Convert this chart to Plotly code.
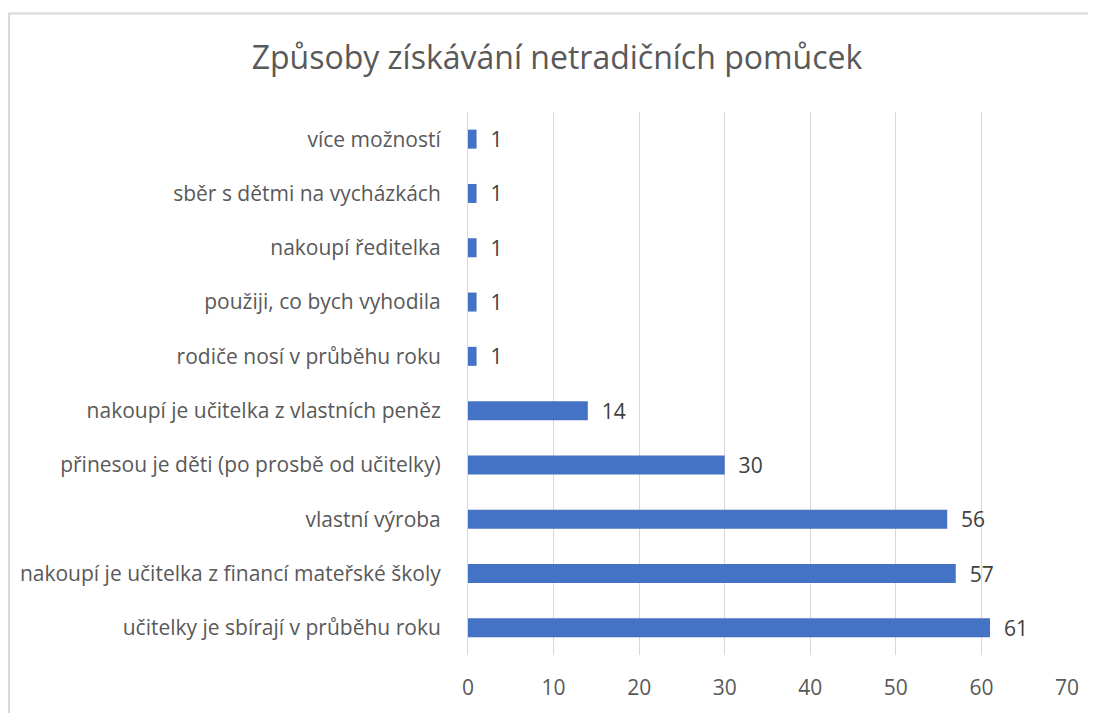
import plotly.graph_objects as go

categories = [
    "učitelky je sbírají v průběhu roku",
    "nakoupí je učitelka z financí mateřské školy",
    "vlastní výroba",
    "přinesou je děti (po prosbě od učitelky)",
    "nakoupí je učitelka z vlastních peněz",
    "rodiče nosí v průběhu roku",
    "použiji, co bych vyhodila",
    "nakoupí ředitelka",
    "sběr s dětmi na vycházkách",
    "více možností",
]
values = [61, 57, 56, 30, 14, 1, 1, 1, 1, 1]
x_ticks = [0, 10, 20, 30, 40, 50, 60, 70]
title_text = "Způsoby získávání netradičních pomůcek"

# page has an 8px body margin, so the figure is offset by 8px
OFF = 8
W, H = 1096 - OFF, 713 - OFF
L, T = 468 - OFF, 112 - OFF
R = OFF + W - 1067
B = OFF + H - 658
pw, ph = W - L - R, H - T - B

fig = go.Figure(go.Bar(
    y=categories, x=values, orientation="h",
    marker=dict(color="#4472C4", line=dict(width=0)),
    text=["\u00a0\u00a0" + str(v) for v in values], textposition="outside",
    textfont=dict(size=21, color="#404040"),
    constraintext="none",
    cliponaxis=False,
    width=0.35,
))

font_family = "Open Sans, Liberation Sans, sans-serif"
fig.update_layout(
    width=W, height=H,
    margin=dict(l=L, r=R, t=T, b=B, pad=0),
    paper_bgcolor="white", plot_bgcolor="white",
    font=dict(family=font_family, color="#595959"),
    title=dict(text=title_text, x=(557 - OFF) / W, xref="container", xanchor="center",
               y=1 - (58 - OFF) / H, yref="container", yanchor="middle",
               font=dict(size=32, color="#595959")),
    showlegend=False,
    xaxis=dict(range=[0, 70], tickvals=x_ticks, showgrid=True, gridcolor="#D9D9D9",
               gridwidth=1, zeroline=False, showline=False, ticks="",
               tickfont=dict(size=21, color="#595959"), ticklabelstandoff=18),
    yaxis=dict(categoryorder="array", categoryarray=categories, showgrid=False,
               showline=True, linecolor="#D9D9D9", linewidth=1, zeroline=False,
               ticks="", tickfont=dict(size=21, color="#595959"), ticklabelstandoff=22),
)

# chart border (left & top visible within the frame)
fig.add_shape(type="rect", xref="paper", yref="paper",
              x0=(0 - L + 1) / pw, x1=(W + 20 - L) / pw,
              y0=-(B + 20) / ph, y1=1 + (T - 5) / ph,
              line=dict(color="#D9D9D9", width=2), layer="below")

fig.write_html("out.html")
